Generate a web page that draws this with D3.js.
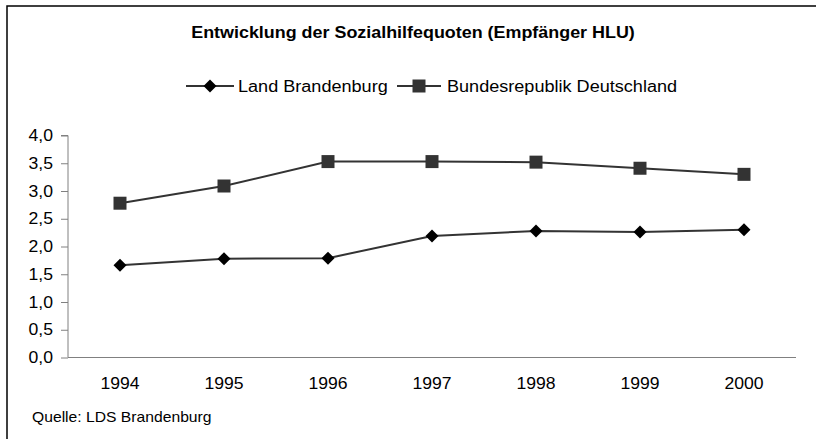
<!DOCTYPE html>
<html>
<head>
  <meta charset="utf-8">
  <title>Entwicklung der Sozialhilfequoten</title>
  <script src="https://d3js.org/d3.v7.min.js"></script>
  <style>
    body { margin: 0; background: #fff; }
    text { font-family: "Liberation Sans", Arial, sans-serif; fill: #000; }
    .axis path, .axis line { stroke: #808080; }
    .axis text { font-size: 16px; }
  </style>
</head>
<body>
  <svg width="816" height="439"></svg>
  <script>
    const years = ["1994", "1995", "1996", "1997", "1998", "1999", "2000"];
    const brandenburg = [1.66, 1.78, 1.79, 2.19, 2.28, 2.26, 2.30];
    const bund = [2.78, 3.09, 3.53, 3.53, 3.52, 3.41, 3.30];
    const yTicks = [0, 0.5, 1, 1.5, 2, 2.5, 3, 3.5, 4];

    const svg = d3.select("svg");
    const sx = 1.1; // Schrift ist im Original etwas breit gezogen

    // Text mit horizontaler Streckung
    function label(x, y, str, size, opts = {}) {
      return svg.append("text")
        .attr("transform", `translate(${x},${y}) scale(${opts.k || sx},1)`)
        .attr("text-anchor", opts.anchor || "start")
        .style("font-size", size + "px")
        .style("font-weight", opts.bold ? "bold" : "normal")
        .text(str);
    }

    // Rahmen (rechts/unten außerhalb des Bildes)
    svg.append("rect")
      .attr("x", 7).attr("y", 6)
      .attr("width", 830).attr("height", 450)
      .attr("fill", "none")
      .attr("stroke", "#000")
      .attr("stroke-width", 1.5);

    label(413, 38, "Entwicklung der Sozialhilfequoten (Empfänger HLU)", 16, { bold: true, anchor: "middle", k: 1.12 });

    const x = d3.scaleBand().domain(years).range([68, 796]);
    const y = d3.scaleLinear().domain([0, 4]).range([357.5, 135.5]);

    // Achsen
    svg.append("g")
      .attr("class", "axis")
      .attr("transform", "translate(68,0)")
      .call(d3.axisLeft(y).tickValues(yTicks).tickSize(7).tickPadding(8)
        .tickFormat(d => d3.format(".1f")(d).replace(".", ",")))
      .call(g => g.select(".domain").attr("d", `M-7,${y(4)}H0V${y(0)}`))
      .call(g => g.selectAll("text")
        .attr("x", -15 / sx)
        .attr("transform", `scale(${sx},1)`));

    svg.append("g")
      .attr("class", "axis")
      .attr("transform", `translate(0,${y(0)})`)
      .call(d3.axisBottom(x).tickSize(0).tickPadding(20))
      .call(g => g.select(".domain").attr("d", "M68,0H796"))
      .call(g => g.selectAll("text").attr("transform", `scale(${sx},1)`));

    const cx = d => x(d) + x.bandwidth() / 2;
    const line = d3.line().x((d, i) => cx(years[i])).y(d => y(d));

    const diamond = "M0,-6.5L6.5,0L0,6.5L-6.5,0Z";
    const square = "M-6.5,-6.5H6.5V6.5H-6.5Z";

    const series = [
      { name: "Land Brandenburg", values: brandenburg, shape: diamond, color: "#000" },
      { name: "Bundesrepublik Deutschland", values: bund, shape: square, color: "#333" }
    ];

    series.forEach(s => {
      svg.append("path")
        .attr("d", line(s.values))
        .attr("fill", "none")
        .attr("stroke", "#333")
        .attr("stroke-width", 2);

      svg.selectAll(null)
        .data(s.values)
        .enter().append("path")
        .attr("d", s.shape)
        .attr("transform", (d, i) => `translate(${cx(years[i])},${y(d)})`)
        .attr("fill", s.color);
    });

    // Legende
    const legend = [
      { x1: 186, x2: 234, tx: 238, s: series[0] },
      { x1: 397, x2: 441, tx: 447, s: series[1] }
    ];
    legend.forEach(l => {
      svg.append("line")
        .attr("x1", l.x1).attr("x2", l.x2)
        .attr("y1", 86).attr("y2", 86)
        .attr("stroke", "#333").attr("stroke-width", 2);
      svg.append("path")
        .attr("d", l.s.shape)
        .attr("transform", `translate(${(l.x1 + l.x2) / 2},86)`)
        .attr("fill", l.s.color);
      label(l.tx, 92, l.s.name, 16, { k: 1.13 });
    });

    label(32, 422, "Quelle: LDS Brandenburg", 14, { k: 1.12 });
  </script>
</body>
</html>
